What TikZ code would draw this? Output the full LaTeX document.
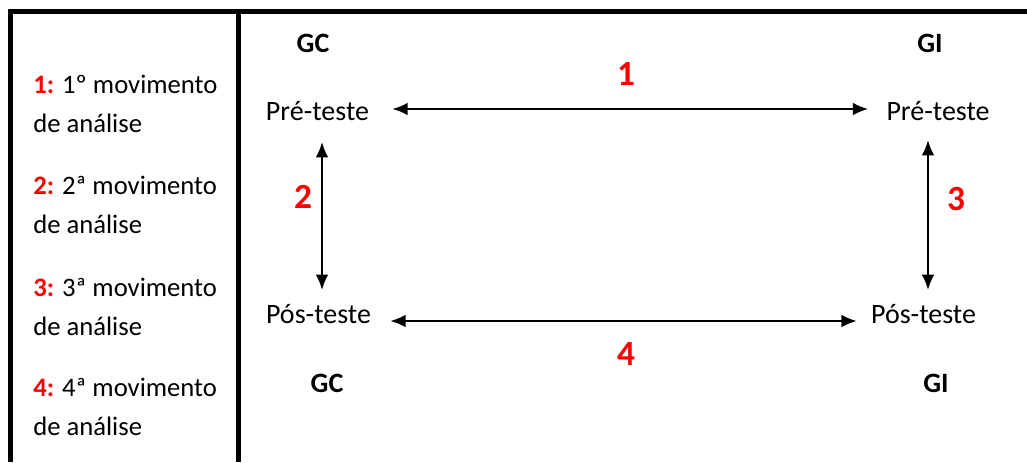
\documentclass[tikz,border=0pt]{standalone}
\usepackage{fontspec}
\setmainfont{Carlito}
\usetikzlibrary{arrows.meta}
\definecolor{numred}{HTML}{FF0000}
\tikzset{
  txt/.style={inner sep=0pt,anchor=base,font=\fontsize{21}{25}\selectfont},
  grp/.style={txt,font=\fontsize{21}{25}\selectfont\bfseries},
  num/.style={inner sep=0pt,anchor=base,text=numred,font=\fontsize{26.5}{30}\selectfont\bfseries},
  legend/.style={inner sep=0pt,anchor=base west,align=left,font=\fontsize{20}{28.9}\selectfont},
  dbl/.style={line width=1.7pt,{Latex[length=11.5pt,width=9.5pt]}-{Latex[length=11.5pt,width=9.5pt]}},
  frame/.style={line width=3.75pt,line join=miter}
}
\begin{document}
\begin{tikzpicture}[x=0.75pt,y=-0.75pt]
  \useasboundingbox (0,0) rectangle (1027,462);
  % frame
  \draw[frame] (10,462) -- (10,11) -- (1027,11);
  \draw[frame] (238.5,11) -- (238.5,462);
  % legend (base = last line)
  \node[legend] (leg1) at (33,132) {\textcolor{numred}{\bfseries 1:} 1º movimento\\de análise};
  \node[legend] (leg2) at (33,233) {\textcolor{numred}{\bfseries 2:} 2ª movimento\\de análise};
  \node[legend] (leg3) at (33,335) {\textcolor{numred}{\bfseries 3:} 3ª movimento\\de análise};
  \node[legend] (leg4) at (33,435) {\textcolor{numred}{\bfseries 4:} 4ª movimento\\de análise};
  % groups
  \node[grp] (gctop) at (313,52) {GC};
  \node[grp] (gitop) at (930,52) {GI};
  \node[grp] (gcbot) at (327,392) {GC};
  \node[grp] (gibot) at (936,392) {GI};
  \node[txt] (pregc) at (317.5,120) {Pré-teste};
  \node[txt] (pregi) at (938,120) {Pré-teste};
  \node[txt] (posgc) at (318.5,323) {Pós-teste};
  \node[txt] (posgi) at (923.5,323) {Pós-teste};
  % movements
  \draw[dbl] ([shift={(23,-11)}]pregc.base east) -- ([shift={(-18,-11)}]pregi.base west);
  \draw[dbl] ([shift={(19,-2)}]posgc.base east) -- ([shift={(-14,-2)}]posgi.base west);
  \draw[dbl] ([shift={(4.5,22)}]pregc.base) -- ([shift={(3.5,-33)}]posgc.base);
  \draw[dbl] ([shift={(-10,20)}]pregi.base) -- ([shift={(4.5,-33)}]posgi.base);
  \node[num] (n1) at (626,85) {1};
  \node[num] (n2) at (303,208) {2};
  \node[num] (n3) at (956,210) {3};
  \node[num] (n4) at (626,365) {4};
\end{tikzpicture}
\end{document}
